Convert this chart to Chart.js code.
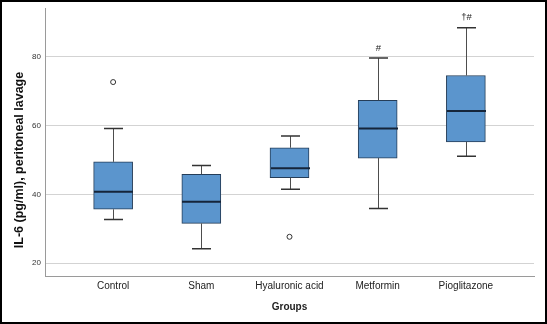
<!DOCTYPE html>
<html>
<head>
<meta charset="utf-8">
<script src="https://cdn.jsdelivr.net/npm/chart.js@4"></script>
<style>
html,body{margin:0;padding:0;background:#fff;}
#wrap{width:547px;height:324px;position:relative;}
</style>
</head>
<body>
<div id="wrap"><canvas id="c" width="547" height="324"></canvas></div>
<script>
const categories = ['Control', 'Sham', 'Hyaluronic acid', 'Metformin', 'Pioglitazone'];
const whiskerMin = [32.7, 24.2, 41.5, 35.9, 51.1];
const q1 = [35.7, 31.6, 44.9, 50.6, 55.3];
const median = [40.8, 37.9, 47.6, 59.2, 64.3];
const q3 = [49.5, 45.9, 53.6, 67.4, 74.6];
const whiskerMax = [59.2, 48.4, 57.0, 79.7, 88.5];
const outlierGroup = [0, 2];
const outlierValue = [72.7, 27.7];
const markers = ['', '', '', '#', '\u2020#'];
const yTicks = [20, 40, 60, 80];
const yTitle = 'IL-6 (pg/ml), peritoneal lavage';

const FONT = "'Liberation Sans', Arial, Helvetica, sans-serif";

const boxData = categories.map((c, i) => ({x: i, y: [q1[i], q3[i]]}));
const outlierData = outlierGroup.map((g, i) => ({x: g, y: outlierValue[i]}));

const boxPlugin = {
  id: 'boxExtras',
  afterDatasetsDraw(chart) {
    const ctx = chart.ctx;
    const xs = chart.scales.x, ys = chart.scales.y;
    const half = 19.5, cap = 9.5;
    ctx.save();
    categories.forEach((c, i) => {
      const cx = Math.round(xs.getPixelForValue(i)) + 0.5;
      const yMin = ys.getPixelForValue(whiskerMin[i]);
      const yQ1 = ys.getPixelForValue(q1[i]);
      const yQ3 = ys.getPixelForValue(q3[i]);
      const yMax = ys.getPixelForValue(whiskerMax[i]);
      const yMed = ys.getPixelForValue(median[i]);
      ctx.strokeStyle = '#4d4d4d';
      ctx.lineWidth = 1;
      ctx.beginPath();
      ctx.moveTo(cx, yQ3); ctx.lineTo(cx, yMax);
      ctx.moveTo(cx, yQ1); ctx.lineTo(cx, yMin);
      ctx.stroke();
      ctx.lineWidth = 1.5;
      ctx.strokeStyle = '#333333';
      ctx.beginPath();
      ctx.moveTo(cx - cap, yMax); ctx.lineTo(cx + cap, yMax);
      ctx.moveTo(cx - cap, yMin); ctx.lineTo(cx + cap, yMin);
      ctx.stroke();
      ctx.strokeStyle = '#15253a';
      ctx.lineWidth = 2;
      ctx.beginPath();
      ctx.moveTo(cx - half, yMed); ctx.lineTo(cx + half, yMed);
      ctx.stroke();
      if (markers[i]) {
        ctx.fillStyle = '#222';
        ctx.font = '9.5px ' + FONT;
        ctx.textAlign = 'center';
        ctx.textBaseline = 'middle';
        ctx.fillText(markers[i], cx, yMax - 10);
      }
    });
    ctx.restore();
  },
  afterDraw(chart) {
    const ctx = chart.ctx;
    ctx.save();
    // y-axis title
    ctx.translate(20, 160);
    ctx.rotate(-Math.PI / 2);
    ctx.fillStyle = '#111';
    ctx.font = 'bold 12.5px ' + FONT;
    ctx.textAlign = 'center';
    ctx.textBaseline = 'middle';
    ctx.fillText(yTitle, 0, 0);
    ctx.restore();
    ctx.save();
    ctx.strokeStyle = '#000';
    ctx.lineWidth = 2;
    ctx.strokeRect(1, 1, chart.width - 2, chart.height - 2);
    ctx.restore();
  }
};

new Chart(document.getElementById('c'), {
  type: 'bar',
  data: {
    datasets: [
      {
        type: 'bar',
        data: boxData,
        backgroundColor: '#5b95cd',
        borderColor: '#253d58',
        borderWidth: 1,
        borderSkipped: false,
        barThickness: 39,
        order: 2
      },
      {
        type: 'scatter',
        data: outlierData,
        pointStyle: 'circle',
        pointRadius: 2.5,
        pointBorderWidth: 1,
        pointBorderColor: '#333',
        pointBackgroundColor: '#fff',
        order: 1
      }
    ]
  },
  plugins: [boxPlugin],
  options: {
    responsive: false,
    animation: false,
    devicePixelRatio: 1,
    layout: {padding: {top: 8, right: 13, left: 0, bottom: 0}},
    plugins: {legend: {display: false}, tooltip: {enabled: false}},
    scales: {
      x: {
        type: 'linear',
        min: -0.7727,
        max: 4.7727,
        offset: false,
        afterBuildTicks(scale) { scale.ticks = categories.map((c, i) => ({value: i})); },
        afterFit(scale) { scale.height = 48; },
        ticks: {
          autoSkip: false,
          maxRotation: 0,
          padding: 4,
          color: '#222',
          font: {family: FONT, size: 10},
          callback: (v) => categories[v] !== undefined ? categories[v] : ''
        },
        grid: {display: false, drawTicks: false},
        border: {display: true, color: '#9a9a9a', width: 1},
        title: {
          display: true,
          text: 'Groups',
          color: '#222',
          font: {family: FONT, size: 10, weight: 'bold'},
          padding: {top: 0, bottom: 11}
        }
      },
      y: {
        type: 'linear',
        min: 16.3,
        max: 94,
        afterBuildTicks(scale) { scale.ticks = yTicks.map(v => ({value: v})); },
        afterFit(scale) { scale.width = 45; },
        ticks: {
          padding: 4,
          color: '#333',
          font: {family: FONT, size: 8}
        },
        grid: {color: '#d3d3d3', lineWidth: 1, drawTicks: false},
        border: {display: true, color: '#9a9a9a', width: 1},
        title: {display: false}
      }
    }
  }
});
</script>
</body>
</html>
